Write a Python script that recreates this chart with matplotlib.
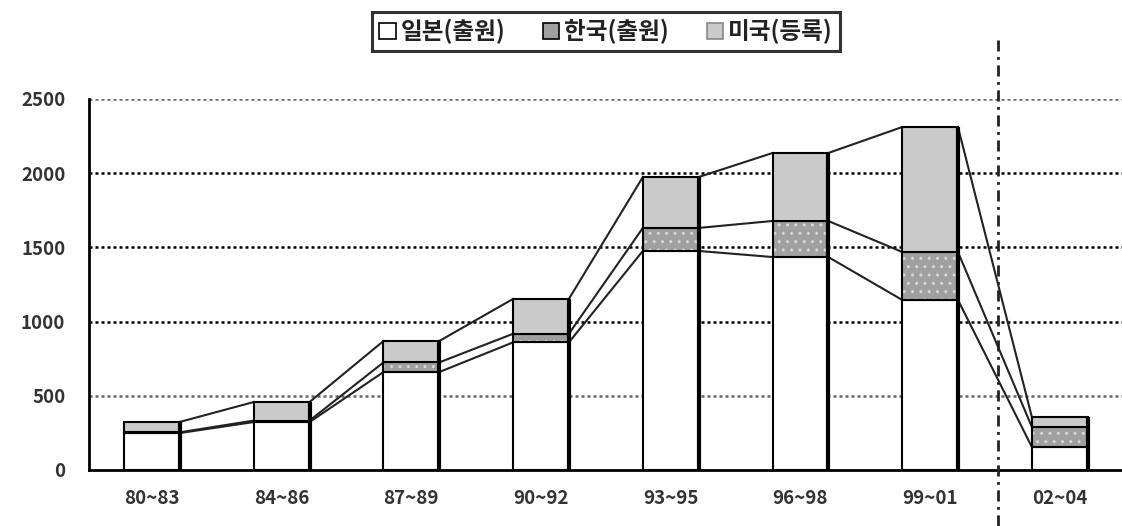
import matplotlib
matplotlib.use("Agg")
import matplotlib.pyplot as plt
from matplotlib.patches import Patch
import numpy as np

plt.rcParams["font.family"] = ["Noto Sans CJK KR", "DejaVu Sans"]

# --- Data ---
periods = ["80~83", "84~86", "87~89", "90~92", "93~95", "96~98", "99~01", "02~04"]
japan = [249, 323, 660, 860, 1476, 1435, 1146, 155]   # 일본(출원)
korea = [5, 10, 65, 58, 155, 243, 323, 135]            # 한국(출원)
usa = [70, 125, 144, 235, 343, 458, 842, 67]           # 미국(등록)
labels = ["일본(출원)", "한국(출원)", "미국(등록)"]

x = np.arange(len(periods))
width = 0.43
japan = np.array(japan)
korea = np.array(korea)
usa = np.array(usa)
lvl1 = japan
lvl2 = japan + korea
lvl3 = japan + korea + usa

fig = plt.figure(figsize=(11.22, 5.26), dpi=100)
ax = fig.add_axes([0.0793, 0.1065, 0.9207, 0.7053])

# gridlines
for yv in [500, 1000, 1500, 2000, 2500]:
    ax.axhline(yv, color="black" if yv in (1000, 1500, 2000) else "#666666",
               lw=1.8, ls=(0, (1.2, 1.2)), zorder=1)

ax.bar(x, japan, width, color="white", edgecolor="black", lw=1.5, zorder=3)
# korea: light dots on grey, then outline
ax.bar(x, korea, width, bottom=lvl1, color="#a0a0a0", hatch="..",
       edgecolor="#d8d8d8", lw=0, zorder=3)
ax.bar(x, korea, width, bottom=lvl1, fill=False, edgecolor="black",
       lw=1.5, zorder=3)
ax.bar(x, usa, width, bottom=lvl2, color="#cacaca", edgecolor="black",
       lw=1.5, zorder=3)
# dark right edge of each bar
ax.vlines(x + width / 2, 0, lvl3, color="black", lw=3, zorder=4)

# connecting lines between stacked levels
for lvl in (lvl1, lvl2, lvl3):
    for i in range(len(x) - 1):
        ax.plot([x[i] + width / 2, x[i + 1] - width / 2], [lvl[i], lvl[i + 1]],
                color="#222222", lw=1.5, zorder=2)

ax.set_xlim(-0.486, 7.48)
ax.set_ylim(0, 2500)
ax.set_yticks([0, 500, 1000, 1500, 2000, 2500])
ax.set_xticks(x)
ax.set_xticklabels(periods)
ax.tick_params(axis="both", length=0, labelsize=13.5, colors="#333333")
ax.tick_params(axis="x", pad=14)
ax.tick_params(axis="y", pad=17)
for t in ax.get_xticklabels() + ax.get_yticklabels():
    t.set_fontweight("bold")
for s in ["top", "right"]:
    ax.spines[s].set_visible(False)
ax.spines["left"].set_linewidth(2)
ax.spines["bottom"].set_linewidth(2)

# dashed divider before 02~04
ax.axvline(6.52, ymin=-0.15, ymax=1.16, color="#222222", lw=2,
           ls=(0, (4, 2, 1, 2)), clip_on=False, zorder=5)

handles = [
    Patch(facecolor="white", edgecolor="black", lw=1.2),
    Patch(facecolor="#a0a0a0", edgecolor="black", lw=1.2),
    Patch(facecolor="#cacaca", edgecolor="#888888", lw=1.2),
]
leg = fig.legend(handles, labels, loc="upper center", bbox_to_anchor=(0.54, 1.0),
                 ncol=3, frameon=True, fancybox=False, edgecolor="black",
                 fontsize=17, handlelength=0.7, handleheight=0.7,
                 handletextpad=0.2, columnspacing=1.6, borderpad=0.3)
leg.get_frame().set_linewidth(2.2)
for t in leg.get_texts():
    t.set_fontweight("bold")
    t.set_color("#222222")

fig.savefig("out.png", dpi=100)
